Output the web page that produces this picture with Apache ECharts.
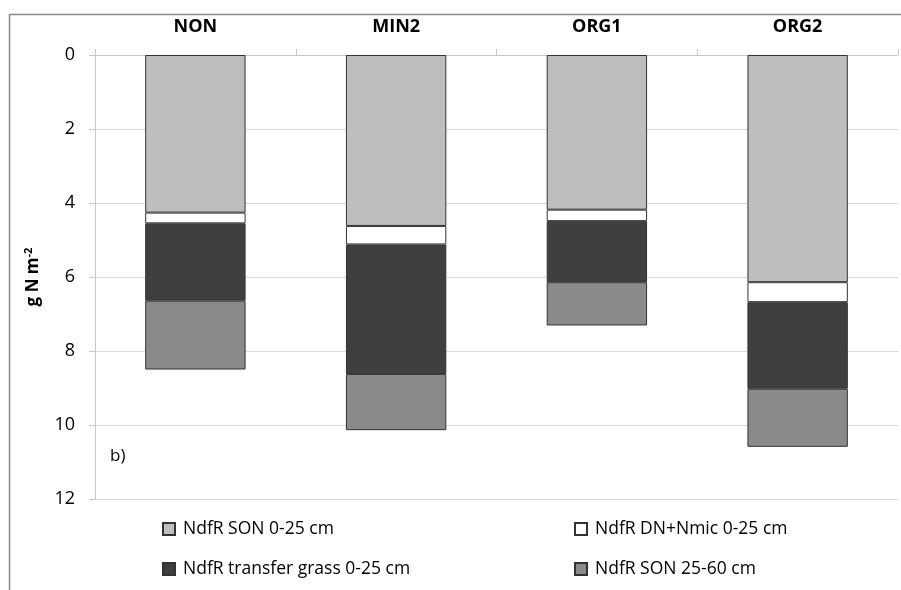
<!DOCTYPE html>
<html>
<head>
<meta charset="utf-8">
<script src="https://cdn.jsdelivr.net/npm/echarts@6/dist/echarts.min.js"></script>
<style>html,body{margin:0;padding:0;background:#fff}#c{width:901px;height:590px}</style>
</head>
<body>
<div id="c"></div>
<script>
const categories = ['NON', 'MIN2', 'ORG1', 'ORG2'];
const sonTop = [4.26, 4.62, 4.18, 6.14];
const dnNmic = [0.29, 0.50, 0.31, 0.54];
const transferGrass = [2.09, 3.50, 1.65, 2.34];
const sonDeep = [1.86, 1.52, 1.17, 1.57];
const seriesNames = ['NdfR SON 0-25 cm', 'NdfR DN+Nmic 0-25 cm', 'NdfR transfer grass 0-25 cm', 'NdfR SON 25-60 cm'];
const yTicks = [0, 2, 4, 6, 8, 10, 12];

const FONT = '"Open Sans", "Noto Sans", sans-serif';
const colors = ['#bebebe', '#ffffff', '#3f3f3f', '#8a8a8a'];
const dataSets = [sonTop, dnNmic, transferGrass, sonDeep];

const legendText = { fontSize: 17.5, color: '#000', fontFamily: FONT, padding: [0, 0, 0, 3] };

const chart = echarts.init(document.getElementById('c'));
chart.setOption({
  animation: false,
  textStyle: { fontFamily: FONT },
  graphic: [
    { type: 'rect', left: 7, top: 12, shape: { width: 940, height: 640 },
      style: { fill: 'none', stroke: '#8a8a8a', lineWidth: 1.5 }, silent: true },
    { type: 'text', left: 110, top: 448, style: { text: 'b)', fontSize: 17, fontFamily: FONT, fill: '#000' } }
  ],
  grid: { left: 95, right: 3, top: 55, bottom: 91, containLabel: false },
  xAxis: {
    type: 'category', position: 'top', data: categories,
    axisLine: { lineStyle: { color: '#c8c8c8', width: 1 } },
    axisTick: { show: true, length: 6, lineStyle: { color: '#c8c8c8' } },
    axisLabel: { color: '#000', fontWeight: 'bold', fontSize: 18, margin: 19, fontFamily: FONT }
  },
  yAxis: {
    type: 'value', inverse: true, min: 0, max: 12, interval: 2,
    name: 'g N m{sup|-2}', nameLocation: 'middle', nameRotate: 90, nameGap: 52,
    nameTextStyle: { fontWeight: 'bold', fontSize: 17, color: '#000', fontFamily: FONT,
      rich: { sup: { fontSize: 11, fontWeight: 'bold', verticalAlign: 'top', padding: [0, 0, 9, 0], fontFamily: FONT } } },
    axisLine: { show: true, lineStyle: { color: '#c8c8c8', width: 1 } },
    axisTick: { show: true, length: 6, lineStyle: { color: '#c8c8c8' } },
    splitLine: { show: true, lineStyle: { color: '#d9d9d9', width: 1.2 } },
    axisLabel: { color: '#000', fontSize: 18, margin: 20, fontFamily: FONT,
      formatter: v => (yTicks.indexOf(v) >= 0 ? String(v) : '') }
  },
  legend: [
    { orient: 'vertical', left: 162, top: 520, padding: 0, icon: 'rect', itemWidth: 12, itemHeight: 12, itemGap: 22,
      data: [seriesNames[0], seriesNames[2]], textStyle: legendText },
    { orient: 'vertical', left: 574, top: 520, padding: 0, icon: 'rect', itemWidth: 12, itemHeight: 12, itemGap: 22,
      data: [seriesNames[1], seriesNames[3]], textStyle: legendText }
  ],
  series: dataSets.map((d, i) => ({
    name: seriesNames[i], type: 'bar', stack: 'total', data: d, barWidth: '50%',
    itemStyle: { color: colors[i], borderColor: '#333', borderWidth: 1 }
  }))
});
</script>
</body>
</html>
